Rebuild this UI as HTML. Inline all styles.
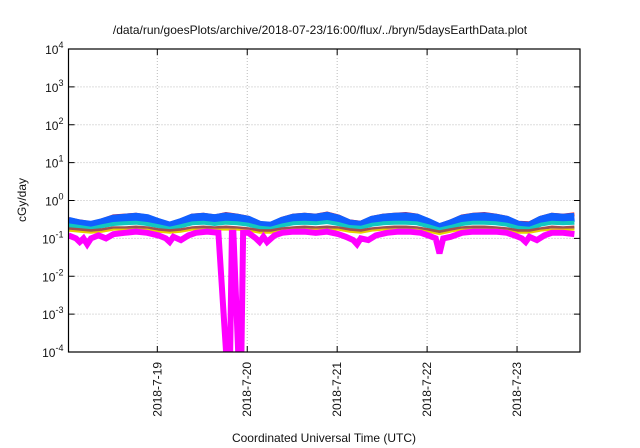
<!DOCTYPE html>
<html><head><meta charset="utf-8"><style>
body{margin:0;background:#fff;}
svg{display:block;font-family:"Liberation Sans",sans-serif;}
</style></head><body>
<svg id="c" width="640" height="448"></svg>
<script>
const yTickExps=[4,3,2,1,0,-1,-2,-3,-4];
const xTickLabels=["2018-7-19","2018-7-20","2018-7-21","2018-7-22","2018-7-23"];
const xTickHours=[23.7,47.7,71.7,95.7,119.7];
const hours=[0,3,6,9,12,15,18,21,24,27,30,33,36,39,42,45,48,51,54,57,60,63,66,69,72,75,78,81,84,87,90,93,96,99,102,105,108,111,114,117,120,123,126,129,132,135];
const redVals=[.32,.28,.25,.3,.38,.4,.42,.38,.3,.24,.3,.4,.42,.38,.44,.4,.35,.25,.24,.33,.4,.42,.4,.45,.38,.28,.26,.35,.4,.42,.44,.4,.3,.22,.28,.38,.42,.44,.4,.35,.26,.25,.35,.42,.4,.43];
const blueVals=[.28,.24,.22,.26,.32,.34,.36,.33,.26,.21,.26,.34,.36,.33,.37,.34,.3,.22,.21,.28,.34,.36,.34,.38,.32,.24,.22,.3,.34,.36,.37,.34,.26,.19,.24,.32,.36,.37,.34,.3,.22,.21,.3,.36,.34,.36];
const cyanVals=[.22,.2,.18,.21,.24,.25,.26,.24,.21,.18,.21,.25,.26,.24,.26,.25,.23,.19,.18,.22,.25,.26,.25,.27,.24,.2,.19,.23,.25,.26,.26,.25,.21,.17,.2,.24,.26,.26,.25,.23,.19,.18,.23,.26,.25,.26];
const brownVals=[.18,.17,.16,.17,.19,.19,.2,.19,.17,.16,.17,.19,.2,.19,.2,.19,.18,.16,.16,.18,.19,.2,.19,.2,.19,.17,.16,.18,.19,.2,.2,.19,.17,.15,.17,.19,.2,.2,.19,.18,.16,.16,.18,.2,.19,.2];
const yellowVals=[.16,.15,.14,.15,.17,.17,.17,.17,.15,.14,.15,.17,.17,.17,.17,.17,.16,.14,.14,.16,.17,.17,.17,.17,.17,.15,.14,.16,.17,.17,.17,.17,.15,.13,.15,.17,.17,.17,.17,.16,.14,.14,.16,.17,.17,.17];
const magentaHours=[0,2,3,4,5,6,8,10,12,15,18,21,24,26,27,28,30,32,34,37,40,42.7,43,43.6,44,45.7,46,46.6,48,50,51,52,53,55,57,60,63,66,69,72,74,76,77,78,80,82,85,88,91,94,96,98,99,100,102,105,108,111,114,117,119,121,122,123,125,127,129,132,135];
const magentaVals=[.12,.1,.08,.1,.07,.1,.12,.1,.13,.14,.15,.14,.12,.1,.08,.11,.09,.12,.14,.15,.14,.00001,.00001,.14,.14,.00001,.00001,.14,.14,.1,.08,.11,.08,.12,.14,.15,.15,.14,.15,.13,.11,.09,.07,.1,.09,.12,.14,.15,.15,.14,.12,.1,.04,.1,.11,.14,.15,.15,.15,.14,.12,.1,.08,.11,.09,.12,.14,.14,.13];
const L=68.5,R=580,T=49,B=352,H0=0,H1=136.5;
const X=h=>L+(h-H0)/(H1-H0)*(R-L);
const Y=v=>{const lv=Math.log10(Math.max(v,1e-6));return T+(4-lv)/8*(B-T);};
const svg=document.getElementById('c');const NS='http://www.w3.org/2000/svg';
function mk(t,a,p){const e=document.createElementNS(NS,t);for(const k in a)e.setAttribute(k,a[k]);(p||svg).appendChild(e);return e;}
let e=mk('text',{x:320,y:34,'text-anchor':'middle','font-size':12,fill:'#111'});e.textContent='/data/run/goesPlots/archive/2018-07-23/16:00/flux/../bryn/5daysEarthData.plot';


const clip=mk('clipPath',{id:'pc'});mk('rect',{x:L,y:T,width:R-L,height:B-T},clip);
yTickExps.forEach(x=>{const y=Y(Math.pow(10,x));
 if(x<4&&x>-4){const g=mk('line',{x1:L,x2:R,y1:y,y2:y,stroke:'#bbb','stroke-dasharray':'1,2','stroke-width':1});}
 mk('line',{x1:L,x2:L+6,y1:y,y2:y,stroke:'#000'});mk('line',{x1:R-6,x2:R,y1:y,y2:y,stroke:'#000'});
 const t=mk('text',{x:L-5,y:y+5,'text-anchor':'end','font-size':12,fill:'#111'});
 t.innerHTML='10<tspan dy="-6" font-size="9">'+x+'</tspan>';
 
 
});
xTickHours.forEach((h,i)=>{const x=X(h);
 const g=mk('line',{x1:x,x2:x,y1:T,y2:B,stroke:'#bbb','stroke-dasharray':'1,2'});
 
 
 mk('line',{x1:x,x2:x,y1:B-6,y2:B,stroke:'#000'});mk('line',{x1:x,x2:x,y1:T,y2:T+6,stroke:'#000'});
 const t=mk('text',{x:0,y:0,'text-anchor':'end','font-size':12,fill:'#111',transform:`translate(${x+4},${B+10}) rotate(-90)`});t.textContent=xTickLabels[i];
 
 
});
const g=mk('g',{'clip-path':'url(#pc)'});
function line(hs,vs,col,w,name){const d=hs.map((h,i)=>(i?'L':'M')+X(h).toFixed(1)+','+Y(vs[i]).toFixed(1)).join('');
 const p=mk('path',{d:d,fill:'none',stroke:col,'stroke-width':w,'stroke-linejoin':'miter'},g);
 
 }
line(hours,redVals,'#ff1010',4,'series-red');
line(hours,blueVals,'#1060ff',9,'series-blue');
line(hours,cyanVals,'#10c8c0',4,'series-cyan');
line(hours,brownVals,'#a05050',3,'series-brown');
line(hours,yellowVals,'#e8d000',2,'series-yellow');
line(magentaHours,magentaVals,'#ff00ff',6,'series-magenta');
const box=mk('rect',{x:L,y:T,width:R-L,height:B-T,fill:'none',stroke:'#000','stroke-width':1.2});


e=mk('text',{x:0,y:0,'text-anchor':'middle','font-size':12,fill:'#111',transform:'translate(26,200) rotate(-90)'});e.textContent='cGy/day';


e=mk('text',{x:324,y:442,'text-anchor':'middle','font-size':12,fill:'#111'});e.textContent='Coordinated Universal Time (UTC)';


</script></body></html>
